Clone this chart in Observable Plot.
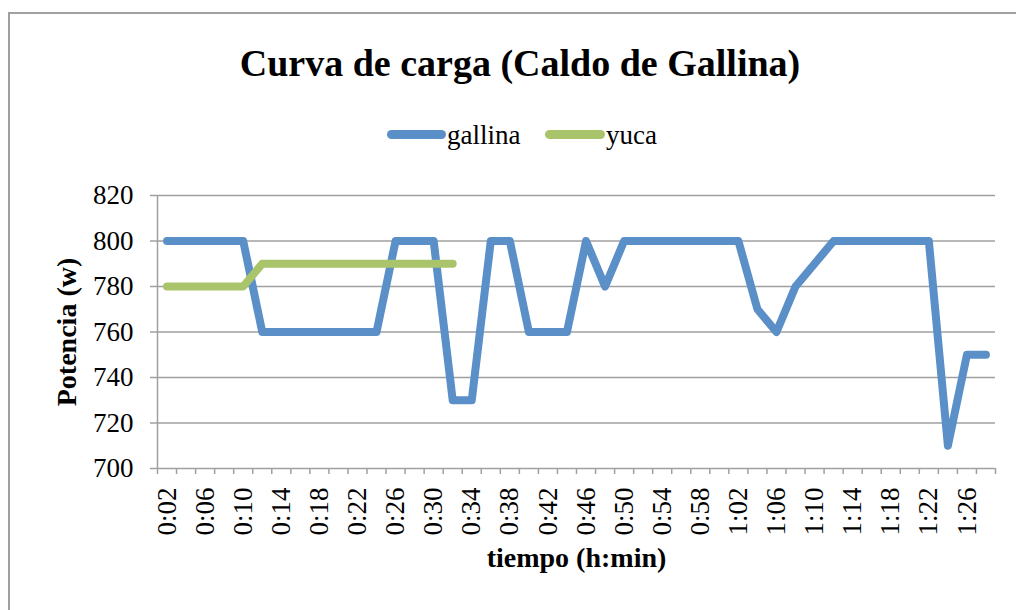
<!DOCTYPE html>
<html><head><meta charset="utf-8">
<script src="https://cdn.jsdelivr.net/npm/d3@7"></script>
<script src="https://cdn.jsdelivr.net/npm/@observablehq/plot@0.6"></script>
<style>
html,body{margin:0;padding:0;background:#fff;overflow:hidden;}
#wrap{position:relative;width:1016px;height:610px;overflow:hidden;font-family:"Liberation Serif",serif;}
#border{position:absolute;left:8px;top:12px;width:1100px;height:700px;border:2px solid #a0a0a0;box-sizing:border-box;}
#title{position:absolute;left:0;top:44px;width:1040px;text-align:center;font-size:38px;line-height:38px;font-weight:bold;color:#000;}
.sw{position:absolute;height:9px;border-radius:4.5px;top:130px;}
.lt{position:absolute;font-size:27px;line-height:27px;color:#000;white-space:nowrap;top:122px;}
#chart{position:absolute;left:0;top:170px;}
</style></head>
<body><div id="wrap"><div id="border"></div><div id="title"></div><div id="legend"></div><div id="chart"></div></div>
<script>
const categories = ["0:02","0:04","0:06","0:08","0:10","0:12","0:14","0:16","0:18","0:20","0:22","0:24","0:26","0:28","0:30","0:32","0:34","0:36","0:38","0:40","0:42","0:44","0:46","0:48","0:50","0:52","0:54","0:56","0:58","1:00","1:02","1:04","1:06","1:08","1:10","1:12","1:14","1:16","1:18","1:20","1:22","1:24","1:26","1:28"];
const gallina = [800,800,800,800,800,760,760,760,760,760,760,760,800,800,800,730,730,800,800,760,760,760,800,780,800,800,800,800,800,800,800,770,760,780,790,800,800,800,800,800,800,710,750,750];
const yuca = [780,780,780,780,780,790,790,790,790,790,790,790,790,790,790,790];
const yTicks = [700,720,740,760,780,800,820];
const seriesNames = ["gallina","yuca"];
const titleText = "Curva de carga (Caldo de Gallina)";
const yLabel = "Potencia (w)";
const xLabel = "tiempo (h:min)";

const colors = ["#5a8fc7","#a9c46b"];
const legendLayout = [{sw:387, swW:59, tx:447},{sw:545, swW:60, tx:606}];

document.getElementById("title").textContent = titleText;
const leg = document.getElementById("legend");
seriesNames.forEach((n,k)=>{
  const s = document.createElement("div");
  s.className="sw"; s.style.left=legendLayout[k].sw+"px"; s.style.width=legendLayout[k].swW+"px"; s.style.background=colors[k];
  leg.appendChild(s);
  const t = document.createElement("div");
  t.className="lt"; t.style.left=legendLayout[k].tx+"px"; t.textContent=n;
  leg.appendChild(t);
});

const font = '"Liberation Serif", serif';
const n = categories.length;
const idx = categories.map((_,i)=>i);
const gray = "#a0a0a0";

const chart = Plot.plot({
  width:1016, height:440, marginLeft:157, marginRight:21, marginTop:25, marginBottom:142,
  style:{fontFamily: font, background:"transparent", color:"#000", overflow:"visible"},
  x:{type:"linear", domain:[-0.5, n-0.5], axis:null},
  y:{type:"linear", domain:[700,820], axis:null},
  marks:[
    Plot.ruleY(yTicks.slice(1), {x1:-0.5, x2:n-0.5, stroke:gray, strokeWidth:1.5}),
    Plot.ruleX([-0.5], {y1:700, y2:820, stroke:gray, strokeWidth:1.5}),
    Plot.ruleY([700], {x1:-0.5, x2:n-0.5, stroke:gray, strokeWidth:1.5}),
    Plot.axisY({ticks:yTicks, tickSize:7, tickPadding:17, fontSize:27, stroke:gray, strokeWidth:1.5, fill:"#000", label:null, tickFormat:d=>String(d)}),
    Plot.axisX({ticks:d3.range(n+1).map(k=>k-0.5), tickSize:6, tickFormat:()=>"", stroke:gray, strokeWidth:1.5, label:null}),
    Plot.text(idx.filter(i=>i%2===0), {x:i=>i, y:()=>700, text:i=>categories[i], rotate:-90, textAnchor:"end", lineAnchor:"middle", dy:19, fontSize:27, fill:"#000"}),
    Plot.line(gallina, {x:(d,i)=>i, y:d=>d, stroke:colors[0], strokeWidth:8, strokeLinecap:"round", strokeLinejoin:"round"}),
    Plot.line(yuca, {x:(d,i)=>i, y:d=>d, stroke:colors[1], strokeWidth:8, strokeLinecap:"round", strokeLinejoin:"round"}),
    Plot.text([yLabel], {text:d=>d, frameAnchor:"left", dx:-90, rotate:-90, textAnchor:"middle", fontSize:28, fontWeight:"bold", fill:"#000"}),
    Plot.text([xLabel], {text:d=>d, frameAnchor:"bottom", dy:98, fontSize:28, fontWeight:"bold", fill:"#000"})
  ]
});
document.getElementById("chart").appendChild(chart);
</script>
</body></html>
